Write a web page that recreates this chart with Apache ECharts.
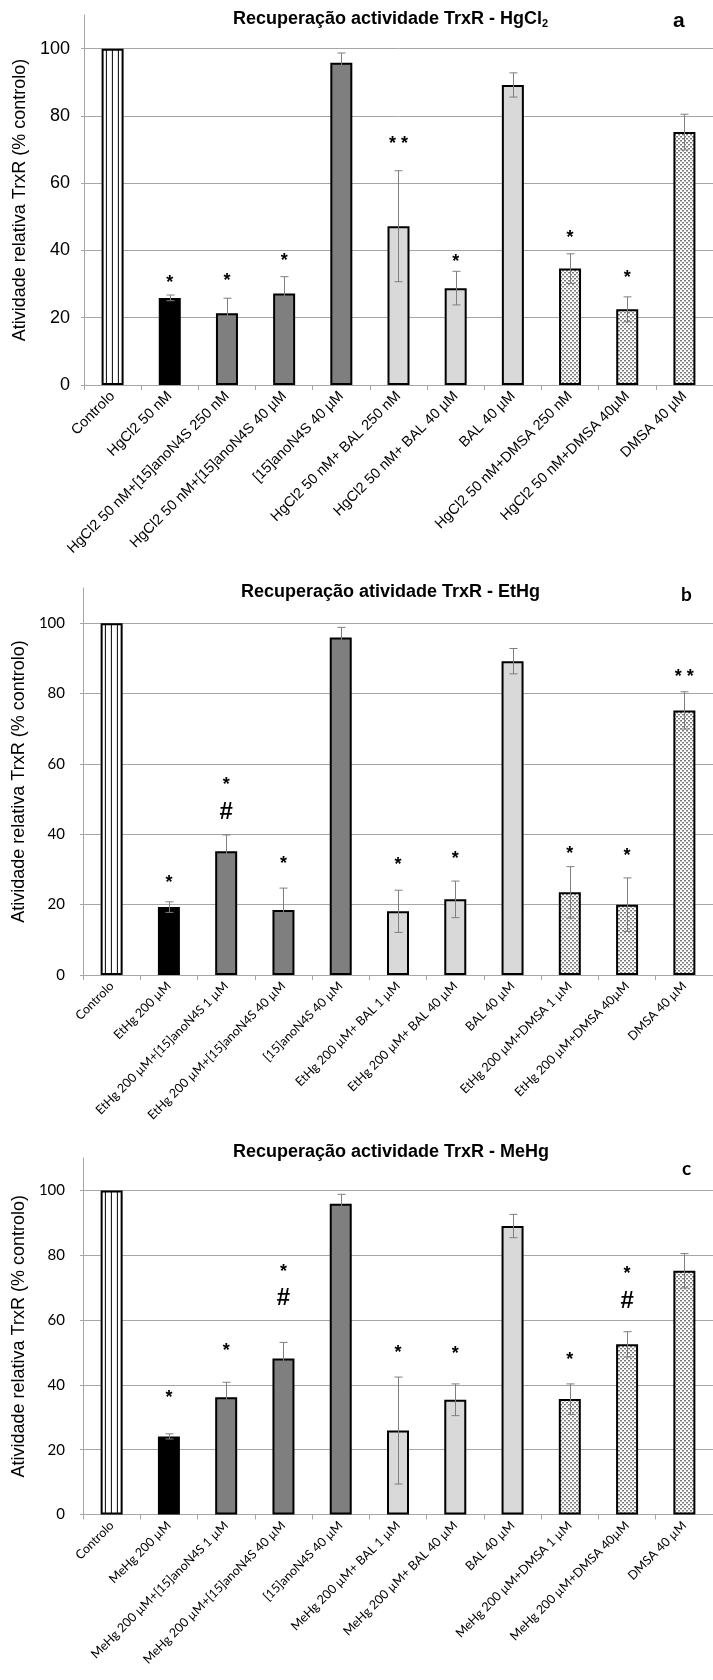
<!DOCTYPE html>
<html>
<head>
<meta charset="utf-8">
<script src="https://cdn.jsdelivr.net/npm/echarts@6/dist/echarts.min.js"></script>
<style>
  html, body { margin: 0; padding: 0; background: #ffffff; }
  #chart { width: 713px; height: 1680px; }
</style>
</head>
<body>
<div id="chart"></div>
<script>
// ---- data -------------------------------------------------------------
const yTicks = [0, 20, 40, 60, 80, 100];
const yAxisMax = 110;
const yAxisName = 'Atividade relativa TrxR (% controlo)';

// Panel a: HgCl2
const catsA = ['Controlo', 'HgCl2 50 nM', 'HgCl2 50 nM+[15]anoN4S 250 nM', 'HgCl2 50 nM+[15]anoN4S 40 µM',
  '[15]anoN4S 40 µM', 'HgCl2 50 nM+ BAL 250 nM', 'HgCl2 50 nM+ BAL 40 µM', 'BAL 40 µM',
  'HgCl2 50 nM+DMSA 250 nM', 'HgCl2 50 nM+DMSA 40µM', 'DMSA 40 µM'];
const valsA = [100, 25.9, 21.3, 27.2, 95.8, 47.2, 28.8, 89.2, 34.6, 22.5, 75.2];
const errsA = [0, 0.85, 4.5, 5.0, 2.9, 16.5, 5.0, 3.6, 4.4, 3.7, 5.3];
const marksA = [[1, 31.6, '*'], [2, 32.1, '*'], [3, 38.0, '*'], [5, 72.7, '* *'], [6, 37.7, '*'],
  [8, 44.8, '*'], [9, 33.1, '*']];

// Panel b: EtHg
const catsB = ['Controlo', 'EtHg 200 µM', 'EtHg 200 µM+[15]anoN4S 1 µM', 'EtHg 200 µM+[15]anoN4S 40 µM',
  '[15]anoN4S 40 µM', 'EtHg 200 µM+ BAL 1 µM', 'EtHg 200 µM+ BAL 40 µM', 'BAL 40 µM',
  'EtHg 200 µM+DMSA 1 µM', 'EtHg 200 µM+DMSA 40µM', 'DMSA 40 µM'];
const valsB = [100, 19.3, 35.2, 18.5, 95.9, 18.1, 21.5, 89.2, 23.5, 20.0, 75.2];
const errsB = [0, 1.5, 4.6, 6.2, 2.9, 6.0, 5.2, 3.6, 7.3, 7.6, 5.3];
const marksB = [[1, 27.3, '*'], [2, 55.2, '*'], [2, 46.3, '#'], [3, 32.8, '*'], [5, 32.3, '*'],
  [6, 34.0, '*'], [8, 35.6, '*'], [9, 35.0, '*'], [10, 85.7, '* *']];

// Panel c: MeHg
const catsC = ['Controlo', 'MeHg 200 µM', 'MeHg 200 µM+[15]anoN4S 1 µM', 'MeHg 200 µM+[15]anoN4S 40 µM',
  '[15]anoN4S 40 µM', 'MeHg 200 µM+ BAL 1 µM', 'MeHg 200 µM+ BAL 40 µM', 'BAL 40 µM',
  'MeHg 200 µM+DMSA 1 µM', 'MeHg 200 µM+DMSA 40µM', 'DMSA 40 µM'];
const valsC = [100, 24.1, 36.2, 48.1, 95.9, 25.9, 35.4, 89.0, 35.6, 52.5, 75.2];
const errsC = [0, 0.8, 4.6, 5.0, 2.9, 16.5, 4.9, 3.6, 4.7, 3.9, 5.3];
const marksC = [[1, 37.3, '*'], [2, 51.7, '*'], [3, 76.1, '*'], [3, 66.6, '#'], [5, 51.2, '*'],
  [6, 50.6, '*'], [8, 48.9, '*'], [9, 75.4, '*'], [9, 65.8, '#']];

// ---- styling ----------------------------------------------------------
const FONT_ARIAL = "'Liberation Sans', Arial, sans-serif";
const FONT_CAL = "Lato, 'Liberation Sans', sans-serif";
const BAR_W = 22;

function stripeCanvas() {
  const c = document.createElement('canvas');
  c.width = 6; c.height = 4;
  const g = c.getContext('2d');
  g.fillStyle = '#ffffff'; g.fillRect(0, 0, 6, 4);
  g.fillStyle = '#000000'; g.fillRect(0, 0, 1, 4);
  return c;
}
function dotCanvas() {
  const c = document.createElement('canvas');
  c.width = 4; c.height = 4;
  const g = c.getContext('2d');
  g.fillStyle = '#ffffff'; g.fillRect(0, 0, 4, 4);
  g.fillStyle = '#7a7a7a';
  g.fillRect(0, 0, 2, 1.5);
  g.fillRect(2, 2, 2, 1.5);
  return c;
}
const stripes = stripeCanvas();
const dots = dotCanvas();

// fill kind per treatment group
const kinds = ['stripes', 'black', 'dark', 'dark', 'dark', 'light', 'light', 'light', 'dots', 'dots', 'dots'];

function itemStyleFor(kind, grid) {
  const base = { borderColor: '#000000', borderWidth: 2 };
  if (kind === 'stripes') {
    const catW = grid.width / 11;
    const barLeft = grid.left + catW / 2 - BAR_W / 2;
    return Object.assign(base, { color: { image: stripes, repeat: 'repeat', x: barLeft + 4, y: 0 } });
  }
  if (kind === 'black') return Object.assign(base, { color: '#000000' });
  if (kind === 'dark') return Object.assign(base, { color: '#7f7f7f' });
  if (kind === 'light') return Object.assign(base, { color: '#d9d9d9' });
  return Object.assign(base, { color: { image: dots, repeat: 'repeat' } });
}

const panels = [
  { cats: catsA, vals: valsA, errs: errsA, marks: marksA,
    grid: { left: 84, top: 15, width: 634, height: 370 },
    title: { rich: 'Recuperação actividade TrxR - HgCl{sub|2}', left: 233, top: 9 },
    letter: { text: 'a', left: 673, top: 11, size: 21 },
    font: FONT_ARIAL, tickSize: 18, catSize: 14.5, labelMargin: 14 },
  { cats: catsB, vals: valsB, errs: errsB, marks: marksB,
    grid: { left: 83, top: 588, width: 635, height: 387 },
    title: { rich: 'Recuperação atividade TrxR - EtHg', left: 241, top: 583 },
    letter: { text: 'b', left: 681, top: 585, size: 19 },
    font: FONT_CAL, tickSize: 15, catSize: 12.5, labelMargin: 18 },
  { cats: catsC, vals: valsC, errs: errsC, marks: marksC,
    grid: { left: 83, top: 1158, width: 635, height: 356.5 },
    title: { rich: 'Recuperação actividade TrxR - MeHg', left: 233, top: 1143 },
    letter: { text: 'c', left: 682, top: 1159, size: 19 },
    font: FONT_CAL, tickSize: 15, catSize: 12.5, labelMargin: 18 }
];

const grids = [], xAxes = [], yAxes = [], series = [], titles = [];

panels.forEach((p, k) => {
  grids.push(Object.assign({ containLabel: false }, p.grid));

  titles.push({
    text: p.title.rich, left: p.title.left, top: p.title.top, padding: 0,
    textStyle: {
      fontFamily: FONT_ARIAL, fontSize: 18, fontWeight: 'bold', color: '#000000',
      rich: { sub: { fontFamily: FONT_ARIAL, fontSize: 11, fontWeight: 'bold', color: '#000000', padding: [9, 0, 0, 0] } }
    }
  });
  titles.push({
    text: p.letter.text, left: p.letter.left, top: p.letter.top, padding: 0,
    textStyle: { fontFamily: p.font, fontSize: p.letter.size, fontWeight: 'bold', color: '#000000' }
  });

  xAxes.push({
    gridIndex: k, type: 'category', data: p.cats, boundaryGap: true,
    axisLine: { show: true, lineStyle: { color: '#a6a6a6', width: 1 } },
    axisTick: { show: true, length: 5, lineStyle: { color: '#a6a6a6' } },
    axisLabel: { interval: 0, rotate: 45, margin: 9, fontFamily: p.font, fontSize: p.catSize, color: '#000000' },
    splitLine: { show: false }
  });

  yAxes.push({
    gridIndex: k, type: 'value', min: 0, max: yAxisMax, interval: 20,
    name: yAxisName, nameLocation: 'middle', nameGap: 47,
    nameTextStyle: { fontFamily: FONT_ARIAL, fontSize: 18, color: '#000000' },
    axisLine: { show: true, lineStyle: { color: '#a6a6a6', width: 1 } },
    axisTick: { show: true, length: 3, customValues: yTicks, lineStyle: { color: '#a6a6a6' } },
    axisLabel: { customValues: yTicks, margin: p.labelMargin,
      fontFamily: p.font, fontSize: p.tickSize, color: '#000000' },
    splitLine: { show: true, lineStyle: { color: '#a6a6a6', width: 1 } }
  });

  series.push({
    type: 'bar', xAxisIndex: k, yAxisIndex: k, barWidth: BAR_W,
    data: p.vals.map((v, i) => ({ value: v, itemStyle: itemStyleFor(kinds[i], p.grid) })),
    emphasis: { disabled: true }, animation: false
  });

  const errData = [];
  p.vals.forEach((v, i) => { if (p.errs[i] > 0) errData.push([i, v, p.errs[i]]); });
  series.push({
    type: 'custom', xAxisIndex: k, yAxisIndex: k, data: errData, z: 5, animation: false,
    renderItem: function (params, api) {
      const i = api.value(0), v = api.value(1), e = api.value(2);
      const t = api.coord([i, v + e]);
      const b = api.coord([i, v - e]);
      const x = Math.round(t[0]) + 0.5;
      const st = { stroke: '#7f7f7f', lineWidth: 1 };
      const cap = 4;
      return { type: 'group', children: [
        { type: 'line', shape: { x1: x, y1: t[1], x2: x, y2: b[1] }, style: st },
        { type: 'line', shape: { x1: x - cap, y1: t[1], x2: x + cap, y2: t[1] }, style: st },
        { type: 'line', shape: { x1: x - cap, y1: b[1], x2: x + cap, y2: b[1] }, style: st }
      ] };
    }
  });

  const marks = p.marks;
  series.push({
    type: 'custom', xAxisIndex: k, yAxisIndex: k, z: 6, animation: false,
    data: marks.map(m => [m[0], m[1]]),
    renderItem: function (params, api) {
      const pt = api.coord([api.value(0), api.value(1)]);
      const txt = marks[params.dataIndex][2];
      const isHash = txt === '#';
      return {
        type: 'text',
        x: pt[0], y: pt[1] + (isHash ? 0 : 4),
        style: {
          text: txt, fill: '#000000', align: 'center', verticalAlign: 'middle',
          fontFamily: FONT_ARIAL, fontWeight: 'bold', fontSize: isHash ? 24 : 18
        }
      };
    }
  });
});

const chart = echarts.init(document.getElementById('chart'), null, { renderer: 'canvas' });
chart.setOption({
  backgroundColor: '#ffffff',
  animation: false,
  title: titles,
  grid: grids,
  xAxis: xAxes,
  yAxis: yAxes,
  series: series
});
</script>
</body>
</html>
